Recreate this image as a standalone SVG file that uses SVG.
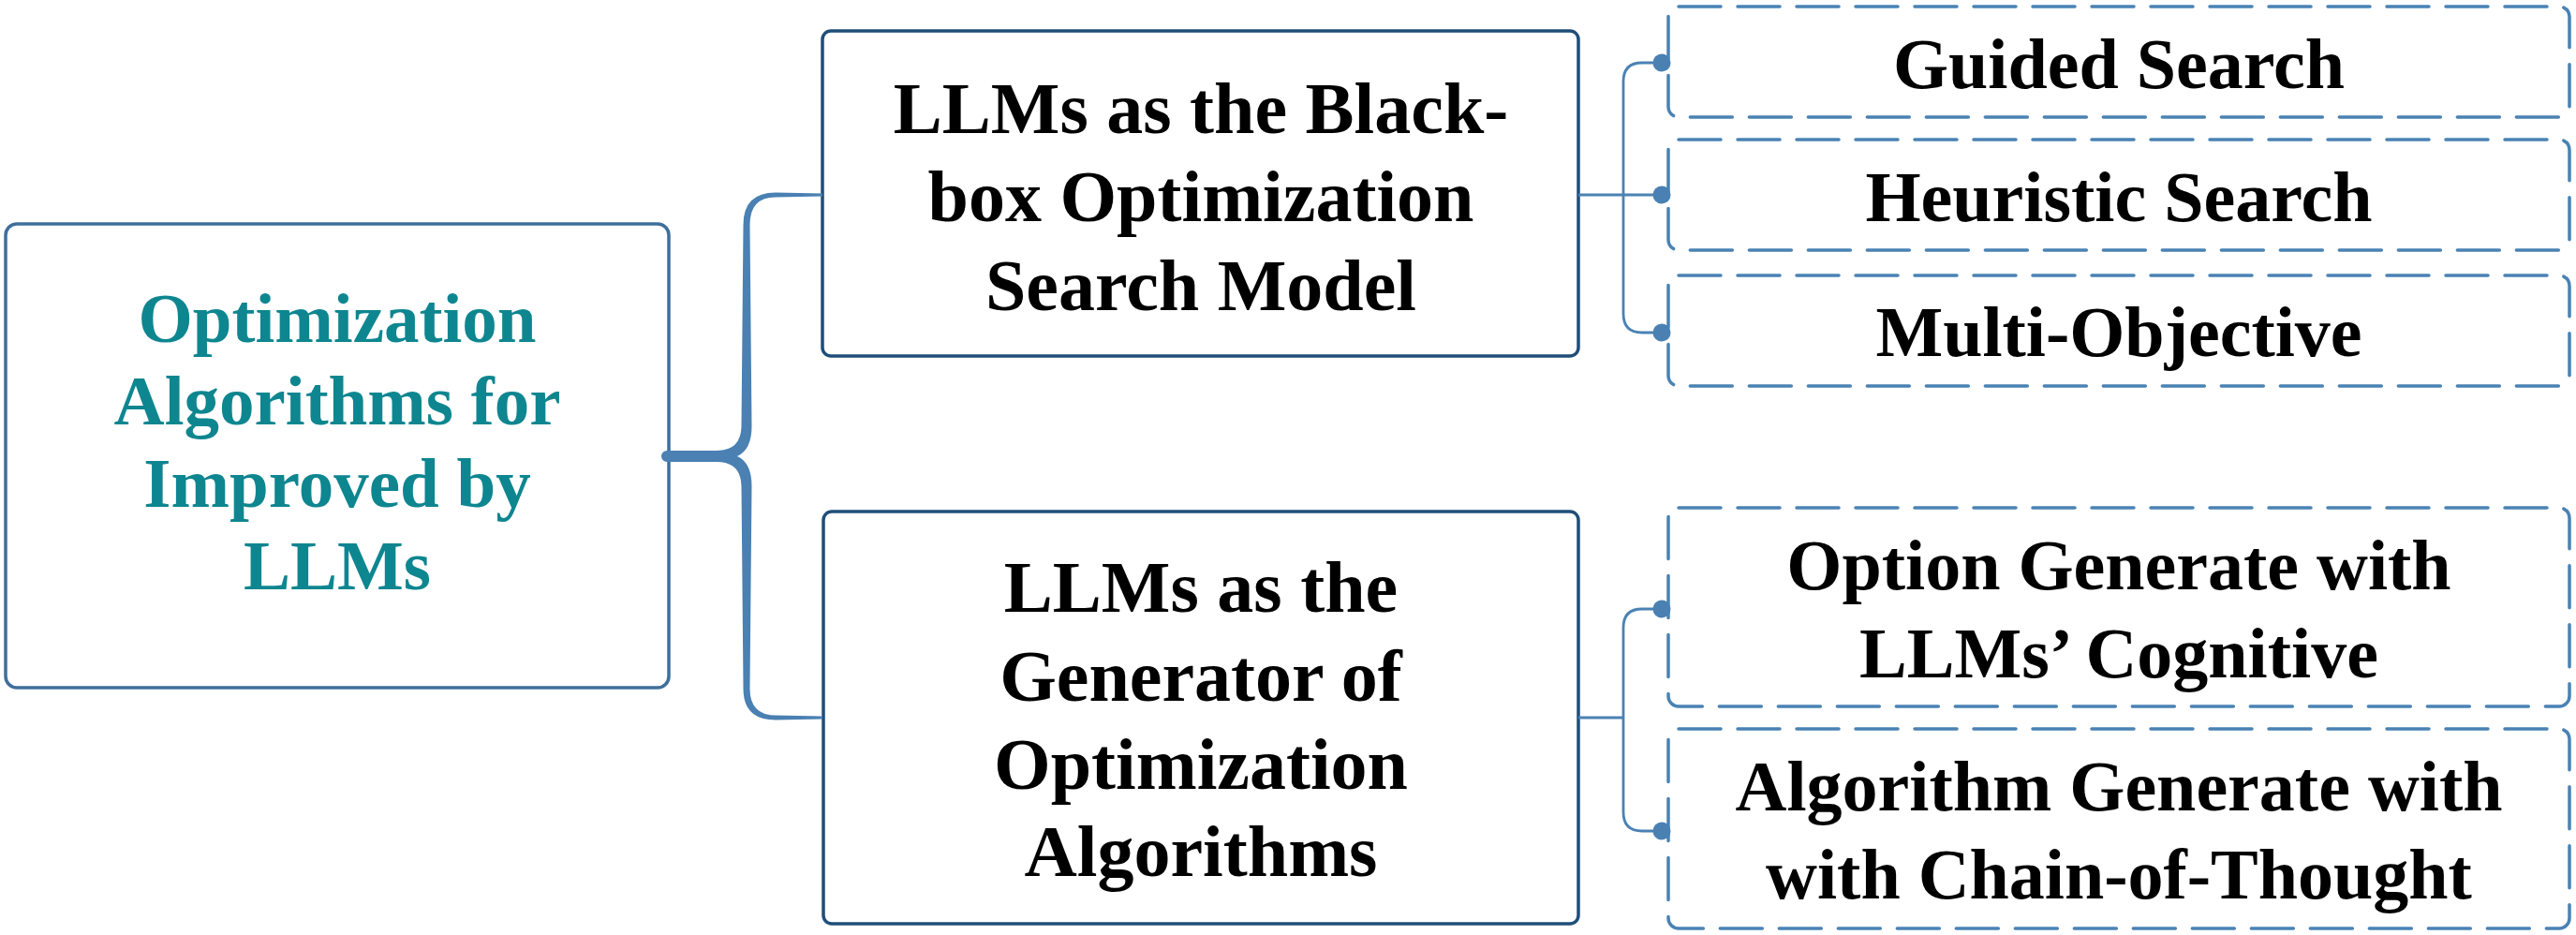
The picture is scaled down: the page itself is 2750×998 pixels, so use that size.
<svg xmlns="http://www.w3.org/2000/svg" width="2750" height="998" viewBox="0 0 2750 998">
<style>
.t{font-family:"Liberation Serif","Times New Roman",serif;font-weight:bold;text-anchor:middle;fill:#000}
.root{fill:#0e8690;font-size:75px}
.mid{font-size:78px}
.leaf{font-size:76px}
.rootbox{fill:#fff;stroke:#3f6f9b;stroke-width:3.5}
.midbox{fill:#fff;stroke:#1f4e79;stroke-width:3.5}
.leafbox{fill:#fff;stroke:#4a82b4;stroke-width:3.5;stroke-dasharray:45 18;stroke-linecap:round}
.conn{fill:none;stroke:#4a82b4;stroke-width:2.8}
.dot{fill:#4a80b2}
</style>
<rect width="2750" height="998" fill="#fff"/>
<g id="root">
<rect class="rootbox" x="6" y="239" width="708" height="495" rx="12"/>
<text class="t root" x="360" y="365">Optimization</text>
<text class="t root" x="360" y="453">Algorithms for</text>
<text class="t root" x="360" y="541">Improved by</text>
<text class="t root" x="360" y="629">LLMs</text>
</g>
<g id="box-blackbox">
<rect class="midbox" x="878" y="33" width="807" height="347" rx="9"/>
<text class="t mid" x="1282" y="142">LLMs as the Black-</text>
<text class="t mid" x="1282" y="236">box Optimization</text>
<text class="t mid" x="1282" y="331">Search Model</text>
</g>
<g id="box-generator">
<rect class="midbox" x="879" y="546" width="806" height="440" rx="9"/>
<text class="t mid" x="1282" y="653">LLMs as the</text>
<text class="t mid" x="1282" y="748">Generator of</text>
<text class="t mid" x="1282" y="842">Optimization</text>
<text class="t mid" x="1282" y="935">Algorithms</text>
</g>
<g id="leaf-guided">
<rect class="leafbox" x="1781" y="7" width="962" height="118" rx="11"/>
<text class="t leaf" x="2262" y="94">Guided Search</text>
</g>
<g id="leaf-heuristic">
<rect class="leafbox" x="1781" y="149" width="962" height="118" rx="11"/>
<text class="t leaf" x="2262" y="236">Heuristic Search</text>
</g>
<g id="leaf-multi">
<rect class="leafbox" x="1781" y="294" width="962" height="118" rx="11"/>
<text class="t leaf" x="2262" y="380">Multi-Objective</text>
</g>
<g id="leaf-option">
<rect class="leafbox" x="1781" y="542" width="962" height="212" rx="11"/>
<text class="t leaf" x="2262" y="629">Option Generate with</text>
<text class="t leaf" x="2262" y="723">LLMs’ Cognitive</text>
</g>
<g id="leaf-algorithm">
<rect class="leafbox" x="1781" y="778" width="962" height="213" rx="11"/>
<text class="t leaf" x="2262" y="865">Algorithm Generate with</text>
<text class="t leaf" x="2262" y="959">with Chain-of-Thought</text>
</g>
<g id="connectors">
<path fill="#4a80b2" d="M712 481 L765 481 Q791 481 791.5 455 L793.5 240 Q793.5 205.5 828 205.5 L878 206.5 L878 209.5 L828 210.5 Q800.5 210.5 800.5 240 L802.5 455 Q802.5 480 787 487 Q802.5 494 802.5 519 L800.5 735 Q800.5 763.5 828 763.5 L878 764.5 L878 767.5 L828 768.5 Q793.5 768.5 793.5 735 L791.5 519 Q791 493 765 493 L712 493 A6 6 0 0 1 712 481 Z"/>
<path class="conn" d="M1685 208 L1774 208"/>
<path class="conn" d="M1774 67 L1753 67 Q1733 67 1733 87 L1733 335 Q1733 355 1753 355 L1774 355"/>
<path class="conn" d="M1685 766 L1733 766"/>
<path class="conn" d="M1774 650 L1753 650 Q1733 650 1733 670 L1733 867 Q1733 887 1753 887 L1774 887"/>
<circle class="dot" cx="1774" cy="67" r="9.5"/>
<circle class="dot" cx="1774" cy="208" r="9.5"/>
<circle class="dot" cx="1774" cy="355" r="9.5"/>
<circle class="dot" cx="1774" cy="650" r="9.5"/>
<circle class="dot" cx="1774" cy="887" r="9.5"/>
</g>
</svg>
